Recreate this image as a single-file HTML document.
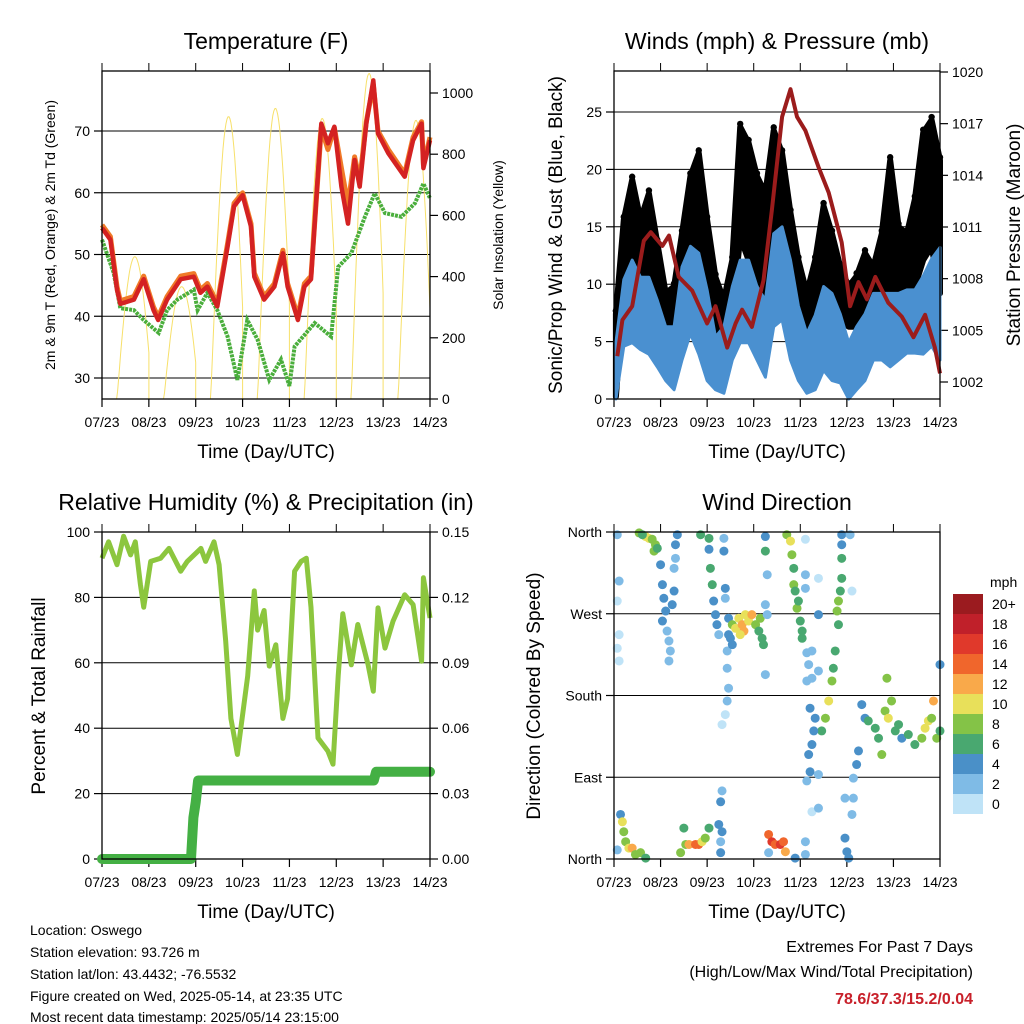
<!DOCTYPE html>
<html><head><meta charset="utf-8"><style>
html,body{margin:0;padding:0;background:#fff;}
svg{display:block;font-family:"Liberation Sans",sans-serif;}
</style></head><body>
<svg id="fig" width="1024" height="1024" viewBox="0 0 1024 1024" xmlns="http://www.w3.org/2000/svg">
<g id="g1"></g>
<g id="g2"></g>
<g id="g3"></g>
<g id="g4"></g>
<g font-size="14" fill="#000">
<text x="30" y="935">Location: Oswego</text>
<text x="30" y="957">Station elevation: 93.726 m</text>
<text x="30" y="979">Station lat/lon: 43.4432; -76.5532</text>
<text x="30" y="1001">Figure created on Wed, 2025-05-14, at 23:35 UTC</text>
<text x="30" y="1022">Most recent data timestamp: 2025/05/14 23:15:00</text>
</g>
<g text-anchor="end">
<text x="973" y="952" font-size="16">Extremes For Past 7 Days</text>
<text x="973" y="977" font-size="16">(High/Low/Max Wind/Total Precipitation)</text>
<text x="973" y="1004" font-size="16" font-weight="bold" fill="#c8202a">78.6/37.3/15.2/0.04</text>
</g>
</svg>
<script>
const NS="http://www.w3.org/2000/svg";
const dayLabels=["07/23","08/23","09/23","10/23","11/23","12/23","13/23","14/23"];
// Temperature (t in days since 07/23)
const tTimes=[0,0.18,0.32,0.39,0.68,0.89,1.1,1.2,1.39,1.68,1.96,2.1,2.25,2.46,2.68,2.82,3.0,3.18,3.25,3.46,3.68,3.86,3.96,4.18,4.32,4.46,4.68,4.82,4.96,5.11,5.25,5.39,5.5,5.64,5.79,5.89,6.11,6.46,6.64,6.82,6.86,7.0];
const temp2m=[54.3,52.4,44.3,42,42.7,46,41,39.4,42.7,46,46.4,43.8,44.8,41.6,51.3,57.8,59.6,54.5,46.4,42.7,44.8,50.2,44.8,39.4,44.8,46,71.2,68,70.7,61,55,65.3,61,71.2,78.2,69.6,66.4,62.6,68.5,71.2,64,68.5];
const temp9m=[54.8,52.9,44.8,42.5,43.2,46.5,41.5,39.9,43.2,46.5,46.9,44.3,45.3,42.1,51.8,58.3,60,55,47,43.2,45.3,50.7,45.3,40,45.3,46.5,70.5,67,70.5,64,58,65.8,62,71.5,77.5,70,67,63.1,69,71.5,64.5,69];
const dTimes=[0,0.25,0.39,0.68,0.89,1.21,1.39,1.61,1.96,2.04,2.25,2.46,2.68,2.89,3.1,3.32,3.57,3.82,4.0,4.11,4.54,4.89,5.04,5.32,5.61,5.82,6.04,6.39,6.68,6.86,7.0];
const dewpt=[52.4,47,41.3,41,39.4,37.3,41,42.7,44.3,41,43.8,41,36.7,29.7,39.4,36.2,29.7,33,28.7,35.1,38.9,36.7,48,50.2,56.1,59.9,56.7,56.1,58.3,61.5,59.1];
const solarPeaks=[465,367,923,950,917,1064,911,0];
// Winds
const wTimes=[0.04,0.21,0.39,0.57,0.75,0.93,1.11,1.29,1.46,1.64,1.82,2.0,2.18,2.36,2.54,2.71,2.89,3.07,3.25,3.43,3.61,3.79,3.96,4.14,4.32,4.5,4.68,4.86,5.04,5.21,5.39,5.57,5.75,5.93,6.11,6.29,6.46,6.64,6.82,7.0];
const gustLo=[0.2,9.3,9.8,8.6,9.5,6.3,4.6,3.4,8.6,12.1,10.6,7.4,5.4,4.9,7.4,14.1,12.1,10.7,9.2,13.9,12.1,7.4,6.3,3.9,4.9,9.5,7.4,6.9,6.3,6.3,6.9,6.5,7.4,9.5,8.1,8.6,9.8,12.1,13.3,9.2];
const gustHi=[7.4,15.6,19.1,15.6,17.9,13.6,9.2,9.8,14.4,19.4,21.4,15.6,10.6,8.6,12.1,23.7,22.3,19.4,17.9,23.4,21.4,16.2,12.1,9.2,12.1,16.8,14.4,11.5,9.8,10.7,12.7,11.5,14.4,20.8,15.0,14.4,17.4,23.2,24.3,20.8];
const windLo=[0,4.6,4.9,4.3,3.9,2.8,1.6,0.8,3.4,5.7,3.9,1.6,0.8,0.5,3.4,4.9,4.9,3.4,1.9,6.3,6.9,3.4,1.6,0.5,0.8,2.5,1.6,1.4,0,0.8,1.6,3.4,3.4,2.8,3.4,4.0,4.0,3.9,4.6,3.4];
const windHi=[4.9,10.4,12.1,10.6,10.6,8.6,6.3,6.3,11.5,13.3,12.7,9.5,5.4,6.3,9.8,12.1,12.1,9.8,8.6,14.4,15.0,12.1,8.1,5.7,7.3,9.8,9.2,7.4,4.9,6.3,7.4,9.2,9.2,9.2,9.2,9.5,9.5,10.7,12.2,13.2];
const pTimesW=[0.07,0.18,0.39,0.64,0.79,1.04,1.18,1.39,1.68,2.0,2.18,2.43,2.61,2.75,2.96,3.21,3.39,3.61,3.79,3.93,4.11,4.39,4.61,4.89,5.07,5.25,5.43,5.61,5.89,6.18,6.43,6.68,6.89,7.0];
const pressure=[1003.5,1005.6,1006.4,1010.2,1010.7,1009.9,1010.5,1008.1,1007.3,1005.4,1006.4,1004,1005.4,1006.2,1005.2,1007.9,1012,1017.4,1019,1017.4,1016.6,1014.5,1013,1010.1,1006.4,1007.8,1006.8,1008.1,1006.6,1005.8,1004.6,1005.9,1004,1002.5];
// RH / precip
const rhTimes=[0,0.14,0.32,0.46,0.61,0.71,0.82,0.89,1.04,1.25,1.43,1.68,1.82,2.11,2.21,2.39,2.5,2.64,2.75,2.89,3.11,3.25,3.32,3.46,3.57,3.71,3.86,3.96,4.11,4.25,4.36,4.46,4.61,4.82,4.93,5.04,5.14,5.32,5.46,5.68,5.79,5.89,6.04,6.21,6.46,6.64,6.82,6.86,7.0];
const rh=[92,97,90,98.7,93,97,84,77,91,92,95,88,91,95,91,97,90,66.6,43,32,56,82,70,76,59,65.5,43,49,88,91,92,77,37,33,29,56,75,59.4,71.7,59.4,51.3,76.8,64.5,72.7,80.8,77.8,60.5,86,73.7];
const pTimes=[0,1.9,1.95,2.0,2.05,5.8,5.85,7];
const precip=[0,0,0.019,0.026,0.036,0.036,0.04,0.04];
// Wind direction points (time in days, degrees, mph)
const dirT=[0.54,0.68,0.75,0.82,0.89,0.86,0.61,0.93,1.0,1.04,1.07,1.11,1.04,1.14,1.18,1.21,1.18,1.25,1.29,1.29,1.32,1.36,1.32,0.07,0.11,0.07,0.11,0.07,0.11,1.86,2.04,2.04,2.07,2.11,2.14,2.18,2.21,2.25,2.36,2.36,2.39,2.39,2.46,2.46,2.43,2.43,2.46,2.43,2.39,2.32,2.54,2.61,2.68,2.75,2.82,2.89,2.96,3.04,3.11,3.18,3.14,3.21,2.79,2.71,2.54,2.5,3.25,3.25,3.29,3.25,3.29,3.25,3.71,3.79,3.82,3.86,3.86,3.89,3.93,3.96,4.0,4.04,4.04,4.11,4.11,4.11,4.39,4.39,4.89,4.89,4.89,4.89,4.86,4.82,4.79,4.82,4.75,4.71,4.68,4.61,4.54,4.46,5.11,5.07,4.14,4.25,4.18,4.14,4.25,4.39,4.21,4.32,4.29,4.25,4.18,4.21,4.14,4.39,4.25,4.39,5.32,5.39,5.46,5.61,5.68,5.75,5.82,5.89,5.96,6.04,6.11,6.18,6.32,6.46,6.61,6.68,6.75,6.82,6.86,6.93,7.0,7.0,5.86,5.25,5.21,5.14,5.14,5.11,4.96,4.96,5.0,5.04,0.14,0.18,0.21,0.25,0.32,0.39,0.46,0.57,0.68,0.07,1.5,1.54,1.61,1.75,1.82,1.89,1.96,2.04,1.43,2.32,2.29,2.25,2.32,2.29,2.29,3.32,3.39,3.46,3.57,3.64,3.68,3.32,3.89,4.11,4.11];
const dirDeg=[359,355,353,352,346,339,357,342,324,302,287,273,262,251,240,229,218,280,295,320,346,357,331,357,306,284,247,232,218,357,353,341,320,302,284,269,258,247,353,339,298,287,265,247,229,210,188,174,159,148,258,254,265,258,269,262,269,258,251,243,265,236,251,247,236,243,355,339,313,280,269,203,357,350,335,320,302,295,276,284,262,251,243,352,313,298,309,269,357,346,331,309,295,284,273,258,229,210,196,174,155,141,295,357,227,229,214,196,199,207,166,155,141,126,115,96,86,93,52,56,170,155,152,144,133,115,163,155,174,141,148,133,137,126,133,144,152,155,174,133,141,214,199,119,104,89,67,49,67,23,8,1,49,41,30,19,12,12,5,7,1,10,34,16,16,16,16,19,23,34,7,75,63,38,30,19,7,27,19,16,16,19,8,7,1,19,5];
const dirSpd=[8,10,10,8,8,8,6,6,4,4,4,4,4,2,2,2,2,4,4,2,4,4,2,2,2,1,1,1,1,6,6,4,6,6,4,4,4,2,2,4,4,2,4,4,2,2,2,2,1,1,8,10,10,12,10,10,12,8,6,6,8,6,12,10,4,4,4,6,2,2,2,2,8,10,8,6,8,6,8,6,6,6,6,1,2,2,1,4,4,4,6,6,6,8,8,6,6,6,8,10,8,6,1,2,2,2,2,2,2,2,4,4,4,4,4,4,2,2,1,2,4,4,6,6,6,8,8,10,8,6,6,4,6,6,8,10,10,8,12,8,6,4,8,4,4,2,2,2,2,4,4,4,4,10,8,8,10,12,8,8,6,2,6,8,12,14,14,10,8,6,8,2,4,4,4,2,4,14,16,14,16,14,12,2,4,2,2];
const binLabels=["20+","18","16","14","12","10","8","6","4","2","0"];
const binColors=["#9b1b1f","#c0202a","#e0392b","#f0662c","#f9a94a","#e8e05a","#84c347","#49a870","#4a90c8","#7fbbe6","#bfe3f7"];

function el(p,tag,attrs,txt){const e=document.createElementNS(NS,tag);for(const k in attrs)e.setAttribute(k,attrs[k]);if(txt!==undefined)e.textContent=txt;p.appendChild(e);return e;}
function lin(d0,d1,r0,r1){return v=>r0+(v-d0)*(r1-r0)/(d1-d0);}

function frame(g,L,T,R,B,title,xlab){
  el(g,'text',{x:(L+R)/2,y:T-22,'font-size':23,'text-anchor':'middle',},title);
  el(g,'text',{x:(L+R)/2,y:B+59,'font-size':19,'text-anchor':'middle',},xlab);
  const x=lin(0,7,L,R);
  dayLabels.forEach((d,i)=>{
    const xx=x(i);
    el(g,'line',{x1:xx,y1:B,x2:xx,y2:B+8,stroke:'#000','stroke-width':1.2});
    el(g,'line',{x1:xx,y1:T,x2:xx,y2:T-8,stroke:'#000','stroke-width':1});
    const t=el(g,'text',{x:xx,y:B+28,'font-size':14,'text-anchor':'middle'},d);
    
    
  });
  return x;
}
function box(g,L,T,R,B){el(g,'rect',{x:L,y:T,width:R-L,height:B-T,fill:'none',stroke:'#000','stroke-width':1.3});}
function hgrid(g,L,R,y){el(g,'line',{x1:L,y1:y,x2:R,y2:y,stroke:'#000','stroke-width':1});}
function ytick(g,x,y,label,side,name){
  const d=side==='l'?-8:8;
  el(g,'line',{x1:x,y1:y,x2:x+d,y2:y,stroke:'#000','stroke-width':1.2});
  const t=el(g,'text',{x:x+(side==='l'?-12:12),y:y+5,'font-size':14,'text-anchor':side==='l'?'end':'start'},label);
  
  
}
function path(xs,ys,fx,fy){return xs.map((v,i)=>(i?'L':'M')+fx(v).toFixed(1)+','+fy(ys[i]).toFixed(1)).join('');}
function band(xs,lo,hi,fx,fy){let d=path(xs,hi,fx,fy);for(let i=xs.length-1;i>=0;i--)d+='L'+fx(xs[i]).toFixed(1)+','+fy(lo[i]).toFixed(1);return d+'Z';}

// Panel 1
(function(){
  const g=document.getElementById('g1');const L=102,T=71,R=430,B=399;
  const x=frame(g,L,T,R,B,'Temperature (F)','Time (Day/UTC)');
  const y=lin(30,70,378,131), ys=lin(0,1000,399,93);
  [30,40,50,60,70].forEach(v=>{hgrid(g,L,R,y(v));ytick(g,L,y(v),v,'l','temp-tick-label');});
  [0,200,400,600,800,1000].forEach(v=>ytick(g,R,ys(v),v,'r','solar-tick-label'));
  let d='';
  for(let day=0;day<8;day++){
    const pk=solarPeaks[day];
    for(let h=0;h<=48;h++){
      const t=day+h/48;if(t>7)break;
      const ph=(h/48-0.32)/0.76; let v=ph>0&&ph<1?pk*Math.sin(Math.PI*ph):0;
      d+=(d?'L':'M')+x(t).toFixed(1)+','+ys(v).toFixed(1);
    }
  }
  const s=el(g,'path',{d:d,fill:'none',stroke:'#f7e06a','stroke-width':1});
  
  const a=el(g,'path',{d:path(dTimes,dewpt,x,y),fill:'none',stroke:'#4aae3c','stroke-width':4,'stroke-dasharray':'3 1'});
  
  const b=el(g,'path',{d:path(tTimes,temp9m,x,y),fill:'none',stroke:'#f07a28','stroke-width':5,'stroke-linejoin':'round'});
  
  const c=el(g,'path',{d:path(tTimes,temp2m,x,y),fill:'none',stroke:'#d42222','stroke-width':4.5,'stroke-linejoin':'round'});
  
  box(g,L,T,R,B);
  el(g,'text',{transform:'translate(55,235) rotate(-90)','font-size':14,'text-anchor':'middle',},'2m & 9m T (Red, Orange) & 2m Td (Green)');
  el(g,'text',{transform:'translate(503,235) rotate(-90)','font-size':14,'text-anchor':'middle',},'Solar Insolation (Yellow)');
})();

// Panel 2
(function(){
  const g=document.getElementById('g2');const L=614,T=71,R=940,B=399;
  const x=frame(g,L,T,R,B,'Winds (mph) & Pressure (mb)','Time (Day/UTC)');
  const y=lin(0,25,399,112), yp=lin(1002,1020,382,72);
  [0,5,10,15,20,25].forEach(v=>{if(v)hgrid(g,L,R,y(v));ytick(g,L,y(v),v,'l','wind-tick-label');});
  [1002,1005,1008,1011,1014,1017,1020].forEach(v=>ytick(g,R,yp(v),v,'r','pressure-tick-label'));
  const gb=el(g,'path',{d:band(wTimes,gustLo,gustHi,x,y),fill:'#000',stroke:'#000','stroke-width':6,'stroke-linejoin':'round'});
  
  wTimes.forEach((t,i)=>{const c=el(g,'circle',{cx:x(t),cy:y(gustHi[i])-3,r:3.2,fill:'#000'});
    });
  const wb=el(g,'path',{d:band(wTimes,windLo,windHi,x,y),fill:'#4a90d0',stroke:'#4a90d0','stroke-width':3,'stroke-linejoin':'round'});
  
  const p=el(g,'path',{d:path(pTimesW,pressure,x,yp),fill:'none',stroke:'#9b1c1c','stroke-width':4,'stroke-linejoin':'round'});
  
  box(g,L,T,R,B);
  el(g,'text',{transform:'translate(562,235) rotate(-90)','font-size':19,'text-anchor':'middle',},'Sonic/Prop Wind & Gust (Blue, Black)');
  el(g,'text',{transform:'translate(1020,235) rotate(-90)','font-size':19,'text-anchor':'middle',},'Station Pressure (Maroon)');
})();

// Panel 3
(function(){
  const g=document.getElementById('g3');const L=102,T=532,R=430,B=859;
  const x=frame(g,L,T,R,B,'Relative Humidity (%) & Precipitation (in)','Time (Day/UTC)');
  const y=lin(0,100,859,532), yp=lin(0,0.15,859,532);
  [0,20,40,60,80,100].forEach(v=>{if(v>0&&v<100)hgrid(g,L,R,y(v));ytick(g,L,y(v),v,'l','rh-tick-label');});
  [0,0.03,0.06,0.09,0.12,0.15].forEach(v=>ytick(g,R,yp(v),v.toFixed(2),'r','precip-tick-label'));
  const a=el(g,'path',{d:path(rhTimes,rh,x,y),fill:'none',stroke:'#8cc63e','stroke-width':5,'stroke-linejoin':'round'});
  
  const b=el(g,'path',{d:path(pTimes,precip,x,yp),fill:'none',stroke:'#44b044','stroke-width':10,'stroke-linejoin':'round','stroke-linecap':'round'});
  
  box(g,L,T,R,B);
  el(g,'text',{transform:'translate(45,696) rotate(-90)','font-size':19,'text-anchor':'middle',},'Percent & Total Rainfall');
})();

// Panel 4
(function(){
  const g=document.getElementById('g4');const L=614,T=532,R=940,B=859;
  const x=frame(g,L,T,R,B,'Wind Direction','Time (Day/UTC)');
  const y=lin(0,360,859,532);
  [[0,'North'],[90,'East'],[180,'South'],[270,'West'],[360,'North']].forEach(([v,l])=>{hgrid(g,L,R,y(v));ytick(g,L,y(v),l,'l','direction-tick-label');});
  dirT.forEach((t,i)=>{
    const bi=Math.max(0,Math.min(10,10-Math.floor((dirSpd[i]+0.5)/2)));
    const c=el(g,'circle',{cx:x(t),cy:y(dirDeg[i]),r:4.5,fill:binColors[bi]});
    
  });
  box(g,L,T,R,B);
  el(g,'text',{transform:'translate(540,696) rotate(-90)','font-size':19,'text-anchor':'middle',},'Direction (Colored By Speed)');
  const lg=el(g,'g',{});
  
  el(lg,'text',{x:990,y:587,'font-size':14},'mph');
  binLabels.forEach((lab,i)=>{
    const r=el(lg,'rect',{x:953,y:594+i*20,width:30,height:20,fill:binColors[i]});
    
    const t=el(lg,'text',{x:992,y:609+i*20,'font-size':14},lab);
    
  });
})();
</script>
</body></html>
